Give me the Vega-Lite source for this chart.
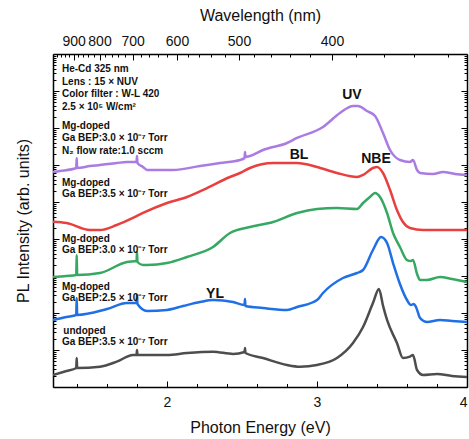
{
  "$schema": "https://vega.github.io/schema/vega-lite/v6.json",
  "width": 414,
  "height": 333,
  "autosize": {"type": "none"},
  "padding": {"left": 53, "top": 54, "right": 2, "bottom": 52},
  "background": "white",
  "config": {
    "view": {"stroke": null},
    "axis": {"grid": false, "domain": false, "tickColor": "black", "tickWidth": 1, "labelFont": "Liberation Sans", "titleFont": "Liberation Sans", "labelColor": "#111", "titleColor": "#111", "titleFontWeight": "normal", "labelOverlap": false, "labelFlush": false},
    "text": {"font": "Liberation Sans", "fontWeight": "bold", "color": "#111"}
  },
  "resolve": {"axis": {"x": "independent", "y": "independent"}},
  "layer": [
    {
      "data": {"values": [
        {"s":"N2","E":1.24,"v":5.811},{"s":"N2","E":1.287,"v":5.838},{"s":"N2","E":1.395,"v":5.919},{"s":"N2","E":1.398,"v":6.189},{"s":"N2","E":1.401,"v":5.919},{"s":"N2","E":1.487,"v":5.973},{"s":"N2","E":1.553,"v":6.0},{"s":"N2","E":1.665,"v":6.054},{"s":"N2","E":1.733,"v":6.081},{"s":"N2","E":1.797,"v":6.081},{"s":"N2","E":1.8,"v":6.243},{"s":"N2","E":1.803,"v":6.054},{"s":"N2","E":1.84,"v":5.946},{"s":"N2","E":1.867,"v":5.865},{"s":"N2","E":2.04,"v":5.865},{"s":"N2","E":2.22,"v":5.973},{"s":"N2","E":2.353,"v":6.054},{"s":"N2","E":2.487,"v":6.135},{"s":"N2","E":2.517,"v":6.189},{"s":"N2","E":2.52,"v":6.351},{"s":"N2","E":2.523,"v":6.216},{"s":"N2","E":2.553,"v":6.243},{"s":"N2","E":2.64,"v":6.405},{"s":"N2","E":2.8,"v":6.595},{"s":"N2","E":2.867,"v":6.73},{"s":"N2","E":3.04,"v":7.027},{"s":"N2","E":3.153,"v":7.405},{"s":"N2","E":3.24,"v":7.595},{"s":"N2","E":3.273,"v":7.595},{"s":"N2","E":3.333,"v":7.459},{"s":"N2","E":3.387,"v":7.324},{"s":"N2","E":3.44,"v":6.865},{"s":"N2","E":3.487,"v":6.405},{"s":"N2","E":3.553,"v":6.135},{"s":"N2","E":3.62,"v":6.081},{"s":"N2","E":3.64,"v":6.135},{"s":"N2","E":3.667,"v":5.865},{"s":"N2","E":3.687,"v":5.784},{"s":"N2","E":3.773,"v":5.757},{"s":"N2","E":3.84,"v":5.811},{"s":"N2","E":3.92,"v":5.757},{"s":"N2","E":4.0,"v":5.73},
        {"s":"3.5","E":1.24,"v":4.468},{"s":"3.5","E":1.331,"v":4.432},{"s":"3.5","E":1.487,"v":4.243},{"s":"3.5","E":1.553,"v":4.243},{"s":"3.5","E":1.665,"v":4.378},{"s":"3.5","E":1.773,"v":4.568},{"s":"3.5","E":1.84,"v":4.703},{"s":"3.5","E":2.0,"v":4.973},{"s":"3.5","E":2.133,"v":5.135},{"s":"3.5","E":2.267,"v":5.378},{"s":"3.5","E":2.42,"v":5.676},{"s":"3.5","E":2.487,"v":5.784},{"s":"3.5","E":2.553,"v":5.919},{"s":"3.5","E":2.707,"v":6.054},{"s":"3.5","E":2.867,"v":6.054},{"s":"3.5","E":3.0,"v":5.946},{"s":"3.5","E":3.133,"v":5.784},{"s":"3.5","E":3.267,"v":5.676},{"s":"3.5","E":3.307,"v":5.73},{"s":"3.5","E":3.373,"v":5.919},{"s":"3.5","E":3.4,"v":5.946},{"s":"3.5","E":3.44,"v":5.784},{"s":"3.5","E":3.487,"v":5.324},{"s":"3.5","E":3.533,"v":4.784},{"s":"3.5","E":3.573,"v":4.459},{"s":"3.5","E":3.62,"v":4.297},{"s":"3.5","E":3.707,"v":4.243},{"s":"3.5","E":3.85,"v":4.243},{"s":"3.5","E":4.0,"v":4.243},
        {"s":"3.0","E":1.24,"v":2.973},{"s":"3.0","E":1.33,"v":3.0},{"s":"3.0","E":1.395,"v":3.027},{"s":"3.0","E":1.398,"v":3.568},{"s":"3.0","E":1.401,"v":3.027},{"s":"3.0","E":1.553,"v":3.081},{"s":"3.0","E":1.733,"v":3.378},{"s":"3.0","E":1.797,"v":3.405},{"s":"3.0","E":1.8,"v":3.649},{"s":"3.0","E":1.803,"v":3.378},{"s":"3.0","E":1.84,"v":3.297},{"s":"3.0","E":1.867,"v":3.297},{"s":"3.0","E":2.0,"v":3.351},{"s":"3.0","E":2.133,"v":3.514},{"s":"3.0","E":2.307,"v":3.784},{"s":"3.0","E":2.42,"v":4.162},{"s":"3.0","E":2.553,"v":4.324},{"s":"3.0","E":2.707,"v":4.459},{"s":"3.0","E":2.867,"v":4.703},{"s":"3.0","E":3.0,"v":4.811},{"s":"3.0","E":3.133,"v":4.838},{"s":"3.0","E":3.267,"v":4.811},{"s":"3.0","E":3.307,"v":4.973},{"s":"3.0","E":3.353,"v":5.135},{"s":"3.0","E":3.387,"v":5.243},{"s":"3.0","E":3.42,"v":5.135},{"s":"3.0","E":3.467,"v":4.703},{"s":"3.0","E":3.507,"v":4.162},{"s":"3.0","E":3.553,"v":3.784},{"s":"3.0","E":3.6,"v":3.432},{"s":"3.0","E":3.627,"v":3.405},{"s":"3.0","E":3.64,"v":3.432},{"s":"3.0","E":3.667,"v":3.054},{"s":"3.0","E":3.687,"v":2.892},{"s":"3.0","E":3.733,"v":2.892},{"s":"3.0","E":3.82,"v":2.973},{"s":"3.0","E":3.9,"v":2.919},{"s":"3.0","E":4.0,"v":2.838},
        {"s":"2.5","E":1.24,"v":1.811},{"s":"2.5","E":1.33,"v":1.892},{"s":"2.5","E":1.395,"v":1.946},{"s":"2.5","E":1.398,"v":2.405},{"s":"2.5","E":1.401,"v":1.946},{"s":"2.5","E":1.6,"v":2.108},{"s":"2.5","E":1.733,"v":2.27},{"s":"2.5","E":1.797,"v":2.27},{"s":"2.5","E":1.8,"v":2.486},{"s":"2.5","E":1.803,"v":2.243},{"s":"2.5","E":1.867,"v":2.054},{"s":"2.5","E":2.0,"v":2.081},{"s":"2.5","E":2.107,"v":2.189},{"s":"2.5","E":2.22,"v":2.297},{"s":"2.5","E":2.307,"v":2.351},{"s":"2.5","E":2.44,"v":2.297},{"s":"2.5","E":2.517,"v":2.216},{"s":"2.5","E":2.52,"v":2.378},{"s":"2.5","E":2.523,"v":2.189},{"s":"2.5","E":2.64,"v":2.135},{"s":"2.5","E":2.8,"v":2.081},{"s":"2.5","E":2.867,"v":2.162},{"s":"2.5","E":3.0,"v":2.351},{"s":"2.5","E":3.04,"v":2.541},{"s":"2.5","E":3.173,"v":2.946},{"s":"2.5","E":3.267,"v":3.081},{"s":"2.5","E":3.307,"v":3.162},{"s":"2.5","E":3.373,"v":3.703},{"s":"2.5","E":3.427,"v":4.054},{"s":"2.5","E":3.467,"v":3.892},{"s":"2.5","E":3.507,"v":3.351},{"s":"2.5","E":3.553,"v":2.784},{"s":"2.5","E":3.6,"v":2.351},{"s":"2.5","E":3.627,"v":2.216},{"s":"2.5","E":3.645,"v":2.243},{"s":"2.5","E":3.66,"v":2.162},{"s":"2.5","E":3.687,"v":1.865},{"s":"2.5","E":3.733,"v":1.757},{"s":"2.5","E":3.82,"v":1.811},{"s":"2.5","E":3.9,"v":1.784},{"s":"2.5","E":4.0,"v":1.757},
        {"s":"undoped","E":1.24,"v":0.324},{"s":"undoped","E":1.33,"v":0.432},{"s":"undoped","E":1.395,"v":0.514},{"s":"undoped","E":1.398,"v":0.784},{"s":"undoped","E":1.401,"v":0.514},{"s":"undoped","E":1.553,"v":0.549},{"s":"undoped","E":1.665,"v":0.684},{"s":"undoped","E":1.773,"v":0.865},{"s":"undoped","E":1.797,"v":0.865},{"s":"undoped","E":1.8,"v":1.0},{"s":"undoped","E":1.803,"v":0.865},{"s":"undoped","E":1.867,"v":0.865},{"s":"undoped","E":2.0,"v":0.865},{"s":"undoped","E":2.133,"v":0.919},{"s":"undoped","E":2.307,"v":0.954},{"s":"undoped","E":2.44,"v":0.892},{"s":"undoped","E":2.517,"v":0.946},{"s":"undoped","E":2.52,"v":1.054},{"s":"undoped","E":2.523,"v":0.919},{"s":"undoped","E":2.64,"v":0.784},{"s":"undoped","E":2.8,"v":0.595},{"s":"undoped","E":2.887,"v":0.549},{"s":"undoped","E":3.0,"v":0.595},{"s":"undoped","E":3.133,"v":0.784},{"s":"undoped","E":3.24,"v":1.189},{"s":"undoped","E":3.307,"v":1.622},{"s":"undoped","E":3.373,"v":2.27},{"s":"undoped","E":3.413,"v":2.649},{"s":"undoped","E":3.44,"v":2.2},{"s":"undoped","E":3.467,"v":1.811},{"s":"undoped","E":3.533,"v":1.189},{"s":"undoped","E":3.573,"v":0.784},{"s":"undoped","E":3.62,"v":0.822},{"s":"undoped","E":3.64,"v":0.865},{"s":"undoped","E":3.667,"v":0.459},{"s":"undoped","E":3.707,"v":0.324},{"s":"undoped","E":3.8,"v":0.351},{"s":"undoped","E":3.9,"v":0.297},{"s":"undoped","E":4.0,"v":0.27}
      ]},
      "mark": {"type": "line", "strokeWidth": 2.5, "strokeJoin": "round", "interpolate": "monotone", "clip": true},
      "encoding": {
        "x": {"field": "E", "type": "quantitative", "scale": {"domain": [1.24, 4], "nice": false, "zero": false},
          "axis": {"orient": "bottom", "values": [2, 3, 4], "format": "d", "tickSize": -6, "labelPadding": 14, "labelFontSize": 14, "labelFlush": true, "title": "Photon Energy (eV)", "titleFontSize": 16, "titleY": 40, "titleBaseline": "middle", "domain": true, "domainColor": "black", "domainWidth": 1.5}},
        "y": {"field": "v", "type": "quantitative", "scale": {"domain": [0, 9], "nice": false, "zero": false},
          "axis": {"orient": "left", "values": [0,1,2,3,4,5,6,7,8,9], "tickSize": -6, "labels": false, "title": "PL Intensity (arb. units)", "titleFontSize": 16, "titleX": -30, "titleY": 166.5, "titleAngle": -90, "titleAlign": "center", "titleBaseline": "middle", "domain": true, "domainColor": "black", "domainWidth": 1.5}},
        "color": {"field": "s", "type": "nominal", "legend": null,
          "scale": {"domain": ["N2", "3.5", "3.0", "2.5", "undoped"], "range": ["#A97BE3", "#E8403F", "#36A862", "#1F6FE5", "#4D4D4D"]}}
      }
    },
    {
      "data": {"values": [
        {"E": 1.30, "v": 5.514, "t": "Mg-doped"},
        {"E": 1.30, "v": 5.216, "t": "Ga BEP:3.5 × 10⁻⁷ Torr"},
        {"E": 1.30, "v": 4.0, "t": "Mg-doped"},
        {"E": 1.30, "v": 3.703, "t": "Ga BEP:3.0 × 10⁻⁷ Torr"},
        {"E": 1.30, "v": 2.711, "t": "Mg-doped"},
        {"E": 1.30, "v": 2.405, "t": "Ga BEP:2.5 × 10⁻⁷ Torr"},
        {"E": 1.309, "v": 1.522, "t": "undoped"},
        {"E": 1.30, "v": 1.208, "t": "Ga BEP:3.5 × 10⁻⁷ Torr"}
      ]},
      "mark": {"type": "text", "align": "left", "baseline": "middle", "fontSize": 10},
      "encoding": {
        "x": {"field": "E", "type": "quantitative",
          "axis": {"orient": "bottom", "values": [1.4, 1.6, 1.8, 2.2, 2.4, 2.6, 2.8, 3.2, 3.4, 3.6, 3.8], "tickSize": -3.5, "labels": false, "title": null}},
        "y": {"field": "v", "type": "quantitative",
          "axis": {"orient": "left", "values": [0.30103,0.47712,0.60206,0.69897,0.77815,0.8451,0.90309,0.95424,1.30103,1.47712,1.60206,1.69897,1.77815,1.8451,1.90309,1.95424,2.30103,2.47712,2.60206,2.69897,2.77815,2.8451,2.90309,2.95424,3.30103,3.47712,3.60206,3.69897,3.77815,3.8451,3.90309,3.95424,4.30103,4.47712,4.60206,4.69897,4.77815,4.8451,4.90309,4.95424,5.30103,5.47712,5.60206,5.69897,5.77815,5.8451,5.90309,5.95424,6.30103,6.47712,6.60206,6.69897,6.77815,6.8451,6.90309,6.95424,7.30103,7.47712,7.60206,7.69897,7.77815,7.8451,7.90309,7.95424,8.30103,8.47712,8.60206,8.69897,8.77815,8.8451,8.90309,8.95424], "tickSize": -3, "labels": false, "title": null}},
        "text": {"field": "t", "type": "nominal"}
      }
    },
    {
      "data": {"values": [
        {"E": 3.233, "v": 7.892, "t": "UV"},
        {"E": 2.88, "v": 6.27, "t": "BL"},
        {"E": 3.393, "v": 6.162, "t": "NBE"},
        {"E": 2.32, "v": 2.514, "t": "YL"}
      ]},
      "mark": {"type": "text", "align": "center", "baseline": "middle", "fontSize": 14},
      "encoding": {
        "x": {"field": "E", "type": "quantitative",
          "axis": {"orient": "top", "values": [1.37778, 1.55, 1.77143, 2.06667, 2.48, 3.1], "labelExpr": "format(1240/datum.value, '.0f')", "tickSize": -6, "labelPadding": 12, "labelFontSize": 14, "title": "Wavelength (nm)", "titleFontSize": 16, "titleY": -39, "titleBaseline": "middle", "domain": true, "domainColor": "black", "domainWidth": 1.5}},
        "y": {"field": "v", "type": "quantitative",
          "axis": {"orient": "right", "values": [0,1,2,3,4,5,6,7,8,9], "tickSize": -6, "labels": false, "title": null, "domain": true, "domainColor": "black", "domainWidth": 1.5}},
        "text": {"field": "t", "type": "nominal"}
      }
    },
    {
      "data": {"values": [
        {"E": 1.30, "v": 8.595, "t": "He-Cd 325 nm"},
        {"E": 1.30, "v": 8.243, "t": "Lens : 15 × NUV"},
        {"E": 1.30, "v": 7.919, "t": "Color filter : W-L 420"},
        {"E": 1.30, "v": 7.568, "t": "2.5 × 10⁵ W/cm²"},
        {"E": 1.30, "v": 7.054, "t": "Mg-doped"},
        {"E": 1.30, "v": 6.73, "t": "Ga BEP:3.0 × 10⁻⁷ Torr"},
        {"E": 1.30, "v": 6.378, "t": "N₂ flow rate:1.0 sccm"}
      ]},
      "mark": {"type": "text", "align": "left", "baseline": "middle", "fontSize": 10},
      "encoding": {
        "x": {"field": "E", "type": "quantitative",
          "axis": {"orient": "top", "values": [1.26531,1.29167,1.31915,1.34783,1.40909,1.44186,1.47619,1.5122,1.58974,1.63158,1.67568,1.72222,1.82353,1.87879,1.9375,2.0,2.13793,2.21429,2.2963,2.38462,2.58333,2.69565,2.81818,2.95238,3.26316,3.44444,3.64706,3.875], "tickSize": -3, "labels": false, "title": null}},
        "y": {"field": "v", "type": "quantitative",
          "axis": {"orient": "right", "values": [0.30103,0.47712,0.60206,0.69897,0.77815,0.8451,0.90309,0.95424,1.30103,1.47712,1.60206,1.69897,1.77815,1.8451,1.90309,1.95424,2.30103,2.47712,2.60206,2.69897,2.77815,2.8451,2.90309,2.95424,3.30103,3.47712,3.60206,3.69897,3.77815,3.8451,3.90309,3.95424,4.30103,4.47712,4.60206,4.69897,4.77815,4.8451,4.90309,4.95424,5.30103,5.47712,5.60206,5.69897,5.77815,5.8451,5.90309,5.95424,6.30103,6.47712,6.60206,6.69897,6.77815,6.8451,6.90309,6.95424,7.30103,7.47712,7.60206,7.69897,7.77815,7.8451,7.90309,7.95424,8.30103,8.47712,8.60206,8.69897,8.77815,8.8451,8.90309,8.95424], "tickSize": -3, "labels": false, "title": null}},
        "text": {"field": "t", "type": "nominal"}
      }
    }
  ]
}
